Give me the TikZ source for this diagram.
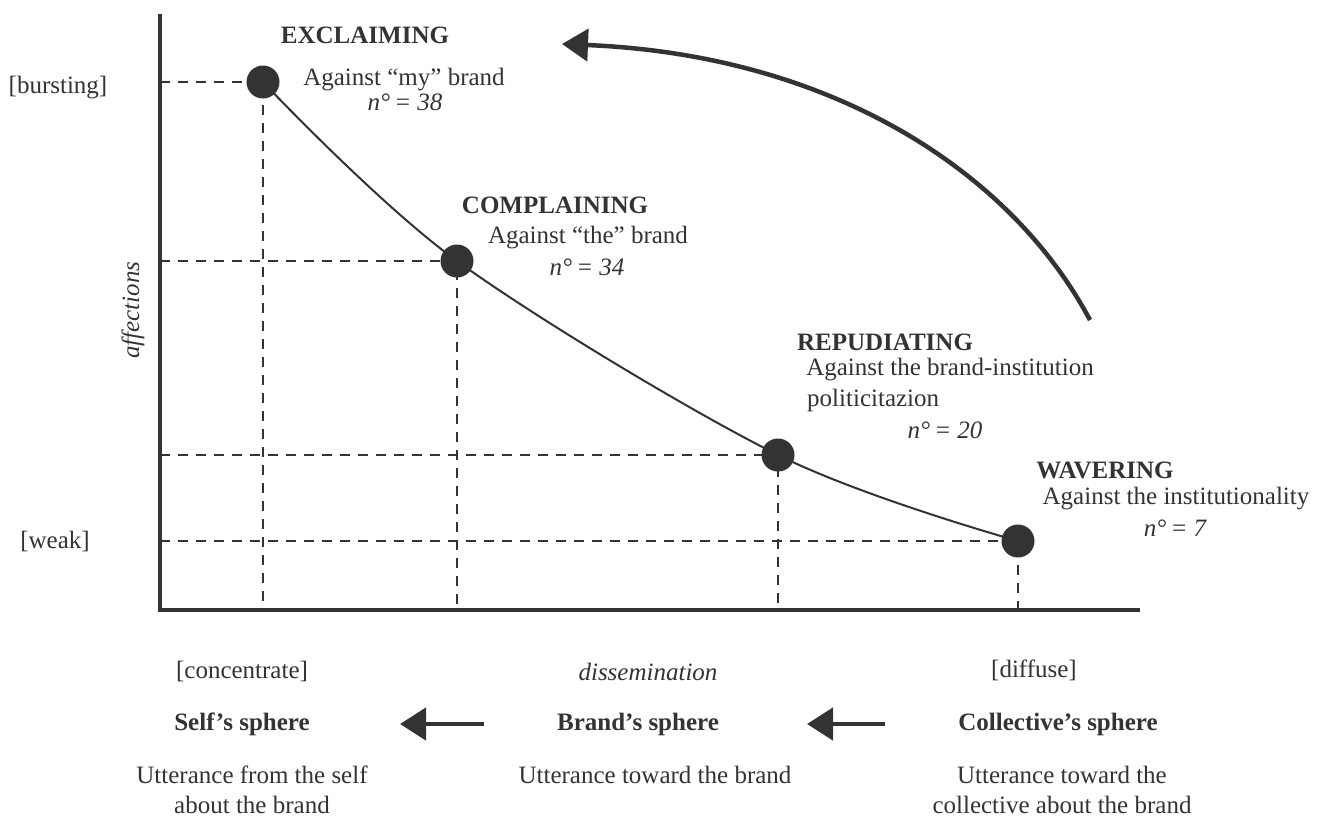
\documentclass[tikz,border=0pt]{standalone}
\usepackage{fontspec}
\setmainfont{Liberation Serif}
\usetikzlibrary{arrows.meta}
\definecolor{ink}{HTML}{333333}
\begin{document}
\begin{tikzpicture}[x=1pt,y=-1pt,
  txt/.style={inner sep=0pt,text=ink,font=\fontsize{25}{30}\selectfont},
  ttl/.style={txt,font=\fontsize{25}{30}\selectfont\bfseries},
  axisline/.style={draw=ink,line width=4pt},
  guide/.style={draw=ink,line width=2pt,dash pattern=on 10pt off 8pt},
  dot/.style={circle,fill=ink,minimum size=33pt,inner sep=0pt},
  bigarrow/.style={draw=ink,line width=4.5pt,-{Triangle[length=26pt,width=32pt]}}
]
\useasboundingbox (0,0) rectangle (1326,823);
\fill[white] (0,0) rectangle (1326,823);
% axes
\coordinate (ytop) at (160,14);
\coordinate (orig) at (160,610);
\coordinate (xend) at (1140,610);
\draw[axisline] (ytop) -- (orig) -- (xend);
% points
\coordinate (c1) at (263,82);
\coordinate (c2) at (457,261);
\coordinate (c3) at (778,455);
\coordinate (c4) at (1018,541);
% guides
\foreach \c in {c1,c2,c3,c4}{
  \draw[guide] (orig |- \c) -- (\c) -- (\c |- orig);
}
% curve
\draw[ink,line width=2pt] plot[smooth,tension=0.55] coordinates {(c1) (c2) (c3) (c4)};
\node[dot] (p1) at (c1) {};
\node[dot] (p2) at (c2) {};
\node[dot] (p3) at (c3) {};
\node[dot] (p4) at (c4) {};
% labels on points
\node[ttl] (l1a) at (365,35) {EXCLAIMING};
\node[txt] (l1b) at (404,80) {Against “my” brand};
\node[txt] (l1c) at (405,102) {\itshape n°\,= 38};
\node[ttl] (l2a) at (555,205) {COMPLAINING};
\node[txt] (l2b) at (588,238) {Against “the” brand};
\node[txt] (l2c) at (587,267) {\itshape n°\,= 34};
\node[ttl] (l3a) at (885,342) {REPUDIATING};
\node[txt] (l3b) at (950,370) {Against the brand-institution};
\node[txt,anchor=west] (l3c) at (807,400) {politicitazion};
\node[txt] (l3d) at (945,430) {\itshape n°\,= 20};
\node[ttl] (l4a) at (1105,470) {WAVERING};
\node[txt] (l4b) at (1176,499) {Against the institutionality};
\node[txt] (l4c) at (1175,528) {\itshape n°\,= 7};
% axis labels
\node[txt] (burst) at (58,88) {[bursting]};
\node[txt] (weak) at (55,541) {[weak]};
\node[txt,rotate=90] (aff) at (133,310) {\itshape affections};
\node[txt] (diss) at (648,672) {\itshape dissemination};
\node[txt] (conc) at (242,671) {[concentrate]};
\node[txt] (diff) at (1034,670) {[diffuse]};
% big curved arrow
\coordinate (ca) at (1090,320);
\coordinate (cb) at (562,44);
\draw[bigarrow] (ca) .. controls (1010,170) and (830,55) .. (cb);
% spheres
\node[ttl] (s1) at (242,724) {Self’s sphere};
\node[ttl] (s2) at (638,724) {Brand’s sphere};
\node[ttl] (s3) at (1058,724) {Collective’s sphere};
\coordinate (a1s) at (484,724);
\coordinate (a1e) at (400,724);
\coordinate (a2s) at (885,724);
\coordinate (a2e) at (807,724);
\draw[bigarrow] (a1s) -- (a1e);
\draw[bigarrow] (a2s) -- (a2e);
\node[txt,align=center,anchor=north] (u1) at (252,766) {Utterance from the self\\about the brand};
\node[txt,align=center,anchor=north] (u2) at (655,766) {Utterance toward the brand};
\node[txt,align=center,anchor=north] (u3) at (1062,766) {Utterance toward the\\collective about the brand};
\end{tikzpicture}
\end{document}
